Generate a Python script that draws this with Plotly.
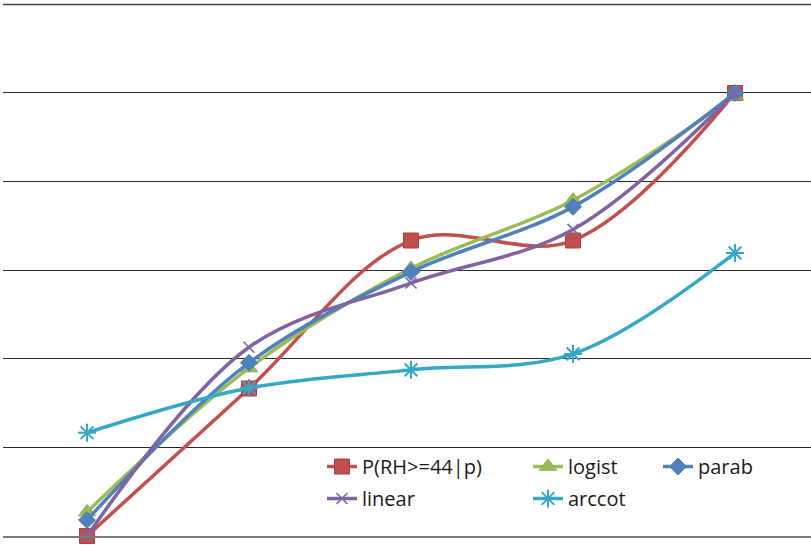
import plotly.graph_objects as go

# Category positions (labels are not displayed on the axis)
categories = [0, 1, 2, 3, 4]

# Series values
p_rh = [0.0, 0.333, 0.667, 0.667, 1.0]
logist = [0.054, 0.379, 0.604, 0.758, 0.993]
parab = [0.036, 0.391, 0.596, 0.743, 1.0]
linear = [0.0, 0.426, 0.571, 0.692, 1.0]
arccot = [0.233, 0.334, 0.375, 0.411, 0.639]

# Horizontal gridline levels
grid_levels = [0, 0.2, 0.4, 0.6, 0.8, 1.0, 1.2]
y_top = 1.2099

series_names = ["P(RH>=44|p)", "logist", "parab", "linear", "arccot"]

styles = [
    dict(color="#C0504D", symbol="square", size=15, mline="#A8423F", mwidth=1, leg="legend"),
    dict(color="#9BBB59", symbol="triangle-up", size=15, mline="#8FAE50", mwidth=1, leg="legend2"),
    dict(color="#4F81BD", symbol="diamond", size=13, mline="#4A7EBB", mwidth=1, leg="legend3"),
    dict(color="#8064A2", symbol="x-thin-open", size=11, mline="#8064A2", mwidth=1.6, leg="legend"),
    dict(color="#35A8C6", symbol="asterisk-open", size=15, mline="#35A8C6", mwidth=2, leg="legend2"),
]

fig = go.Figure()
for name, values, st in zip(series_names, [p_rh, logist, parab, linear, arccot], styles):
    fig.add_trace(go.Scatter(
        x=categories, y=values, name=name,
        mode="lines+markers",
        line=dict(color=st["color"], width=3.5, shape="spline", smoothing=1),
        marker=dict(symbol=st["symbol"], size=st["size"], color=st["color"],
                    line=dict(color=st["mline"], width=st["mwidth"])),
        cliponaxis=False,
        legend=st["leg"],
        legendgroup=name,
    ))

# Topmost gridline sits right at the plot edge, so draw it explicitly in paper units
top_frac = grid_levels[-1] / y_top
fig.add_shape(type="line", xref="paper", yref="paper", x0=0, x1=1,
              y0=top_frac, y1=top_frac,
              line=dict(color="#444444", width=1.5), layer="above")

legend_font = dict(family="'Open Sans', Lato, sans-serif", size=20, color="#1a1a1a")
legend_common = dict(
    orientation="v", xanchor="left", yanchor="top", y=0.166,
    bgcolor="rgba(0,0,0,0)", borderwidth=0, font=legend_font,
    tracegroupgap=3,
)

fig.update_layout(
    width=811, height=545,
    margin=dict(l=3, r=0, t=0, b=9),
    paper_bgcolor="white", plot_bgcolor="white",
    showlegend=True,
    legend=dict(x=(322 - 3) / 808, **legend_common),
    legend2=dict(x=(528 - 3) / 808, **legend_common),
    legend3=dict(x=(658 - 3) / 808, **legend_common),
    xaxis=dict(
        range=[-0.5185, 4.469], showticklabels=False, showgrid=False,
        zeroline=False, showline=True, linecolor="#7a7a7a", linewidth=2, ticks="",
    ),
    yaxis=dict(
        range=[0, y_top], tickmode="array", tickvals=grid_levels, showticklabels=False,
        showgrid=True, gridcolor="#2a2a2a", gridwidth=1,
        zeroline=False, showline=False, ticks="",
    ),
)

fig.write_html("out.html")
